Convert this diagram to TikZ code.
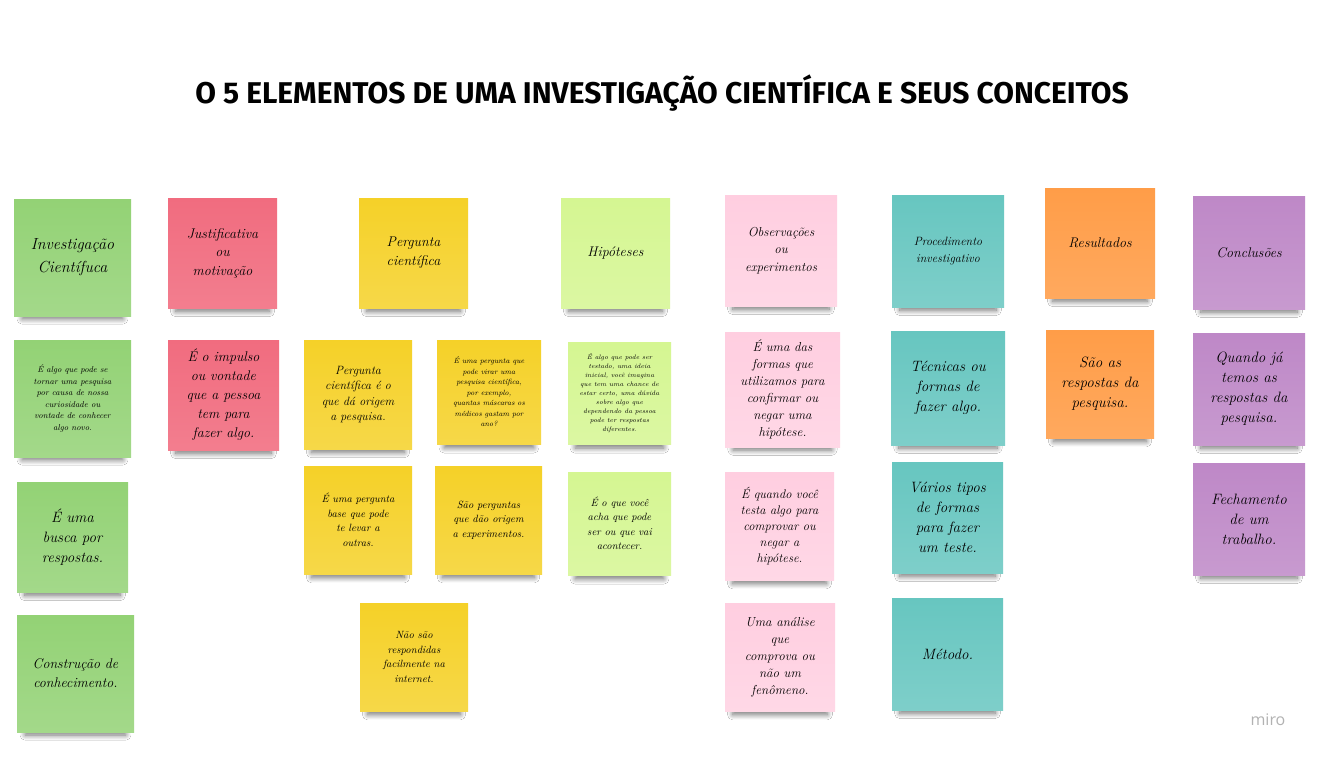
\documentclass[tikz,border=0pt]{standalone}
\usepackage{fontspec}
\usepackage{tikz}
\usetikzlibrary{shadows.blur}
\newfontfamily\titlefont{Fira Sans}
\newfontfamily\logofont{Open Sans}

\definecolor{dkgreen}{HTML}{93D275}
\definecolor{stred}{HTML}{F16C7F}
\definecolor{styellow}{HTML}{F5D128}
\definecolor{ltgreen}{HTML}{D5F692}
\definecolor{ltpink}{HTML}{FFCEE0}
\definecolor{stcyan}{HTML}{67C6C0}
\definecolor{storange}{HTML}{FF9D48}
\definecolor{stviolet}{HTML}{BE88C7}

\tikzset{note/.style = {rectangle, inner sep = 0, align = center,
                        blur shadow = {shadow xshift = 0pt, shadow yshift = -13pt,
                                       shadow scale = 0.86, shadow opacity = 55,
                                       shadow blur radius = 6pt, shadow blur steps = 12}}}
\tikzset{sz/.style 2 args = {minimum width = #1pt, minimum height = #2pt}}
\tikzset{fs/.style 2 args = {font = \itshape\fontsize{#1}{#2}\selectfont}}
\tikzset{gnote/.style = {note, top color = dkgreen, bottom color = dkgreen!85!white}}
\tikzset{rnote/.style = {note, top color = stred, bottom color = stred!88!white}}
\tikzset{ynote/.style = {note, top color = styellow, bottom color = styellow!85!white}}
\tikzset{lgnote/.style = {note, top color = ltgreen, bottom color = ltgreen!85!white}}
\tikzset{pnote/.style = {note, top color = ltpink, bottom color = ltpink!80!white}}
\tikzset{cnote/.style = {note, top color = stcyan, bottom color = stcyan!85!white}}
\tikzset{onote/.style = {note, top color = storange, bottom color = storange!88!white}}
\tikzset{vnote/.style = {note, top color = stviolet, bottom color = stviolet!85!white}}

\begin{document}
\begin{tikzpicture}[x=1pt, y=-1pt]
      \useasboundingbox[fill=white] (0,0) rectangle (1320,757);

      \node (title) at (662,93) {\titlefont\bfseries\fontsize{30}{36}\selectfont
        O 5 ELEMENTOS DE UMA INVESTIGAÇÃO CIENTÍFICA E SEUS CONCEITOS};

      % investigacao
      \node[gnote, sz={117}{117}, fs={16}{23}] (inv) at (72.5,257.5) {Investigação\\Científuca};
      \node[gnote, sz={117}{117}, fs={8.5}{11.5}] (inv1) at (72.5,398.5)
        {É algo que pode se\\tornar uma pesquisa\\por causa de nossa\\curiosidade ou\\vontade de conhecer\\algo novo.};
      \node[gnote, sz={111}{110}, fs={15}{20}] (inv2) at (72.5,537) {É uma\\busca por\\respostas.};
      \node[gnote, sz={117}{117}, fs={14}{19}] (inv3) at (75.5,673.5) {Construção de\\conhecimento.};

      % justificativa
      \node[rnote, sz={109}{110}, fs={14}{18.5}] (jus) at (222.5,253) {Justificativa\\ou\\motivação};
      \node[rnote, sz={111}{110}, fs={14}{19}] (jus1) at (223.5,395)
        {É o impulso\\ou vontade\\que a pessoa\\tem para\\fazer algo.};

      % pergunta
      \node[ynote, sz={109}{110}, fs={14}{19}] (per) at (413.5,253) {Pergunta\\científica};
      \node[ynote, sz={108}{109}, fs={12}{15.5}] (per1) at (358,394.5)
        {Pergunta\\científica é o\\que dá origem\\a pesquisa.};
      \node[ynote, sz={104}{104}, fs={7.5}{10.5}] (per2) at (489,392)
        {É uma pergunta que\\pode virar uma\\pesquisa científica,\\por exemplo,\\quantas máscaras os\\médicos gastam por\\ano?};
      \node[ynote, sz={108}{108}, fs={10.5}{14.5}] (per3) at (358,520)
        {É uma pergunta\\base que pode\\te levar a\\outras.};
      \node[ynote, sz={107}{108}, fs={10.5}{14.5}] (per4) at (488.5,520)
        {São perguntas\\que dão origem\\a experimentos.};
      \node[ynote, sz={108}{108}, fs={10.5}{14.5}] (per5) at (414,657)
        {Não são\\respondidas\\facilmente na\\internet.};

      % hipoteses
      \node[lgnote, sz={109}{110}, fs={14}{19}] (hip) at (615.5,253) {Hipóteses};
      \node[lgnote, sz={103}{102}, fs={6.5}{9}] (hip1) at (619.5,393)
        {É algo que pode ser\\testado, uma ideia\\inicial, você imagina\\que tem uma chance de\\estar certo, uma dúvida\\sobre algo que\\dependendo da pessoa\\pode ter respostas\\diferentes.};
      \node[lgnote, sz={103}{103}, fs={10.5}{14.5}] (hip2) at (619.5,523.5)
        {É o que você\\acha que pode\\ser ou que vai\\acontecer.};

      % observacoes
      \node[pnote, sz={112}{111}, fs={13}{17.5}] (obs) at (781,250.5) {Observações\\ou\\experimentos};
      \node[pnote, sz={115}{115}, fs={13}{17}] (obs1) at (782.5,389.5)
        {É uma das\\formas que\\utilizamos para\\confirmar ou\\negar uma\\hipótese.};
      \node[pnote, sz={109}{108}, fs={12.5}{16}] (obs2) at (779.5,526)
        {É quando você\\testa algo para\\comprovar ou\\negar a\\hipótese.};
      \node[pnote, sz={110}{108}, fs={13}{17}] (obs3) at (780,657)
        {Uma análise\\que\\comprova ou\\não um\\fenômeno.};

      % procedimento
      \node[cnote, sz={112}{112}, fs={12}{17}] (pro) at (948,251) {Procedimento\\investigativo};
      \node[cnote, sz={114}{114}, fs={15}{20}] (pro1) at (948,388) {Técnicas ou\\formas de\\fazer algo.};
      \node[cnote, sz={111}{111}, fs={15}{20}] (pro2) at (947.5,517.5)
        {Vários tipos\\de formas\\para fazer\\um teste.};
      \node[cnote, sz={111}{112}, fs={15}{20}] (pro3) at (947.5,654) {Método.};

      % resultados
      \node[onote, sz={110}{110}, fs={14}{19}] (res) at (1100,243) {Resultados};
      \node[onote, sz={108}{108}, fs={15}{20}] (res1) at (1100,384) {São as\\respostas da\\pesquisa.};

      % conclusoes
      \node[vnote, sz={112}{113}, fs={14}{19}] (con) at (1249,252.5) {Conclusões};
      \node[vnote, sz={112}{112}, fs={15}{20}] (con1) at (1249,389)
        {Quando já\\temos as\\respostas da\\pesquisa.};
      \node[vnote, sz={112}{112}, fs={15}{20}] (con2) at (1249,519) {Fechamento\\de um\\trabalho.};

      \node[text = black!30] (logo) at (1268,720) {\logofont\fontsize{16}{18}\selectfont miro};
    \end{tikzpicture}
\end{document}
